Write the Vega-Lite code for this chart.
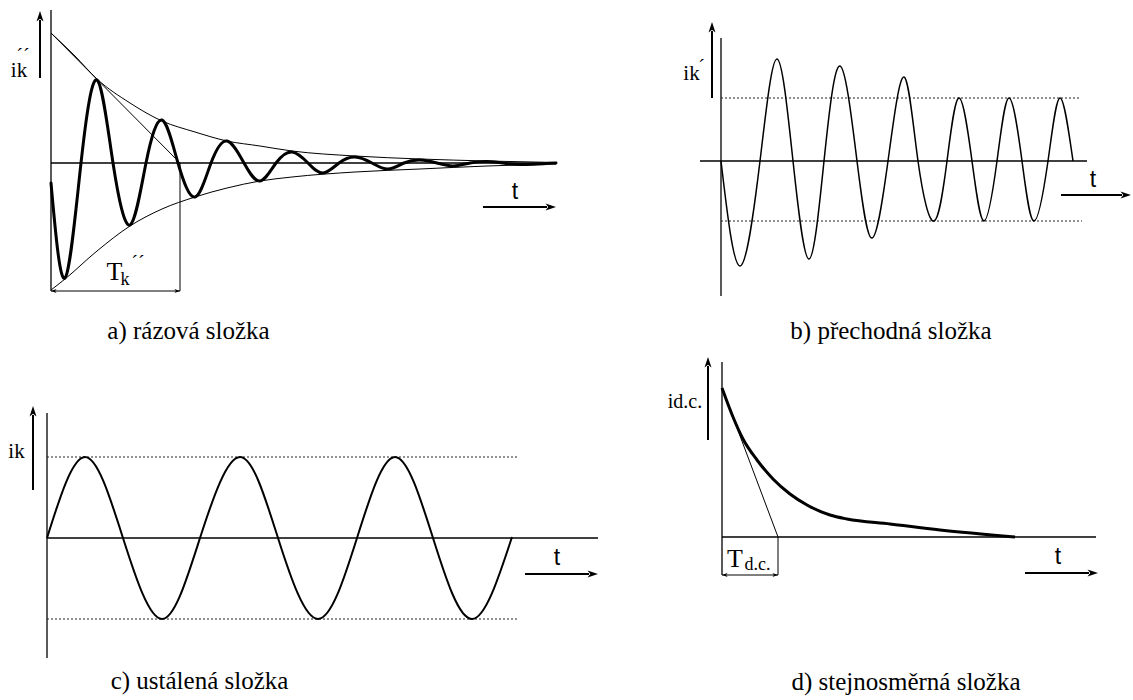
{
  "$schema": "https://vega.github.io/schema/vega-lite/v6.json",
  "background": "white",
  "padding": 0,
  "spacing": 0,
  "bounds": "flush",
  "columns": 2,
  "config": {"view": {"stroke": null}, "axis": {"disable": true}},
  "concat": [
    {
      "width": 610,
      "height": 350,
      "encoding": {
        "x": {"field": "t", "type": "quantitative", "scale": {"domain": [-5.1, 55.9], "nice": false, "zero": false}, "axis": null},
        "y": {"field": "i", "type": "quantitative", "scale": {"domain": [-18.7, 16.3], "nice": false, "zero": false}, "axis": null}
      },
      "layer": [
        {
          "data": {"values": [
            {"t": 0, "i": 15.3, "t2": 0, "i2": -12.8},
            {"t": 0, "i": 0, "t2": 50.6, "i2": 0}
          ]},
          "mark": {"type": "rule", "color": "black", "strokeWidth": 1.3},
          "encoding": {"x2": {"field": "t2"}, "y2": {"field": "i2"}}
        },
        {
          "data": {"values": [
            {"t": 0, "i": 13.0, "t2": 12.9, "i2": 0},
            {"t": 12.9, "i": 0, "t2": 12.9, "i2": -12.8},
            {"t": 0, "i": -12.8, "t2": 12.9, "i2": -12.8}
          ]},
          "mark": {"type": "rule", "color": "black", "strokeWidth": 1},
          "encoding": {"x2": {"field": "t2"}, "y2": {"field": "i2"}}
        },
        {
          "data": {"values": [
            {"t": -1.1, "i": 8.5, "t2": -1.1, "i2": 14.3},
            {"t": 43.2, "i": -4.4, "t2": 49.6, "i2": -4.4}
          ]},
          "mark": {"type": "rule", "color": "black", "strokeWidth": 2},
          "encoding": {"x2": {"field": "t2"}, "y2": {"field": "i2"}}
        },
        {
          "data": {"values": [
            {"side": "upper", "t": 0, "i": 13.0}, {"side": "upper", "t": 2.4, "i": 10.7}, {"side": "upper", "t": 4.6, "i": 8.4},
            {"side": "upper", "t": 7.9, "i": 6.0}, {"side": "upper", "t": 11.1, "i": 4.2}, {"side": "upper", "t": 14.4, "i": 3.1},
            {"side": "upper", "t": 17.6, "i": 2.2}, {"side": "upper", "t": 20.9, "i": 1.7}, {"side": "upper", "t": 24.1, "i": 1.2},
            {"side": "upper", "t": 30.4, "i": 0.7}, {"side": "upper", "t": 36.9, "i": 0.4}, {"side": "upper", "t": 43.6, "i": 0.2},
            {"side": "upper", "t": 50.5, "i": 0.05},
            {"side": "lower", "t": 0, "i": -12.7}, {"side": "lower", "t": 1.4, "i": -11.6}, {"side": "lower", "t": 4.6, "i": -8.8},
            {"side": "lower", "t": 7.9, "i": -6.3}, {"side": "lower", "t": 11.1, "i": -4.6}, {"side": "lower", "t": 14.4, "i": -3.4},
            {"side": "lower", "t": 17.6, "i": -2.5}, {"side": "lower", "t": 20.9, "i": -1.8}, {"side": "lower", "t": 24.1, "i": -1.4},
            {"side": "lower", "t": 30.4, "i": -0.9}, {"side": "lower", "t": 36.9, "i": -0.6}, {"side": "lower", "t": 43.6, "i": -0.3},
            {"side": "lower", "t": 50.5, "i": -0.1}
          ]},
          "mark": {"type": "line", "interpolate": "monotone", "color": "black", "strokeWidth": 1},
          "encoding": {"detail": {"field": "side"}}
        },
        {
          "data": {"values": [
            {"t": 0, "i": -2.0}, {"t": 1.4, "i": -11.5}, {"t": 3.0, "i": 0}, {"t": 4.6, "i": 8.3},
            {"t": 6.2, "i": 0}, {"t": 7.9, "i": -6.2}, {"t": 9.5, "i": 0}, {"t": 11.1, "i": 4.3},
            {"t": 12.7, "i": 0}, {"t": 14.4, "i": -3.4}, {"t": 16.0, "i": 0}, {"t": 17.6, "i": 2.2},
            {"t": 19.3, "i": 0}, {"t": 20.9, "i": -1.8}, {"t": 22.5, "i": 0}, {"t": 24.1, "i": 1.1},
            {"t": 25.7, "i": 0}, {"t": 27.2, "i": -1.0}, {"t": 28.8, "i": 0}, {"t": 30.4, "i": 0.6},
            {"t": 32.1, "i": 0}, {"t": 33.7, "i": -0.6}, {"t": 35.3, "i": 0}, {"t": 36.9, "i": 0.3},
            {"t": 38.6, "i": 0}, {"t": 40.2, "i": -0.3}, {"t": 41.9, "i": 0}, {"t": 43.6, "i": 0.15},
            {"t": 45.2, "i": 0}, {"t": 46.9, "i": -0.15}, {"t": 50.5, "i": 0}
          ]},
          "mark": {"type": "line", "interpolate": "natural", "color": "black", "strokeWidth": 3, "strokeCap": "round"}
        },
        {
          "data": {"values": [{"t": -1.1, "i": 15.2}]},
          "mark": {"type": "point", "shape": "M0,0L-0.5,1.5L0,1.1L0.5,1.5Z", "size": 196, "filled": true, "color": "black", "opacity": 1}
        },
        {
          "data": {"values": [{"t": 50.5, "i": -4.4}]},
          "mark": {"type": "point", "shape": "M0,0L-1.5,-0.5L-1.1,0L-1.5,0.5Z", "size": 196, "filled": true, "color": "black", "opacity": 1}
        },
        {
          "data": {"values": [{"t": 0, "i": -12.8}]},
          "mark": {"type": "point", "shape": "M0,0L1.4,-0.5L1,0L1.4,0.5Z", "size": 64, "filled": true, "color": "black", "opacity": 1}
        },
        {
          "data": {"values": [{"t": 12.9, "i": -12.8}]},
          "mark": {"type": "point", "shape": "M0,0L-1.4,-0.5L-1,0L-1.4,0.5Z", "size": 64, "filled": true, "color": "black", "opacity": 1}
        },
        {
          "data": {"values": [{"t": -3.2, "i": 8.6, "label": "ik"}]},
          "mark": {"type": "text", "font": "Liberation Serif", "fontSize": 21, "align": "center", "baseline": "alphabetic", "color": "black"},
          "encoding": {"text": {"field": "label"}}
        },
        {
          "data": {"values": [{"t": -2.8, "i": 10.0, "label": "´´"}, {"t": 8.7, "i": -10.7, "label": "´´"}]},
          "mark": {"type": "text", "font": "Liberation Serif", "fontSize": 20, "align": "center", "baseline": "alphabetic", "color": "black"},
          "encoding": {"text": {"field": "label"}}
        },
        {
          "data": {"values": [{"t": 6.35, "i": -11.7, "label": "T"}]},
          "mark": {"type": "text", "font": "Liberation Serif", "fontSize": 26, "align": "center", "baseline": "alphabetic", "color": "black"},
          "encoding": {"text": {"field": "label"}}
        },
        {
          "data": {"values": [{"t": 7.4, "i": -12.2, "label": "k"}]},
          "mark": {"type": "text", "font": "Liberation Serif", "fontSize": 18, "align": "center", "baseline": "alphabetic", "color": "black"},
          "encoding": {"text": {"field": "label"}}
        },
        {
          "data": {"values": [{"t": 46.4, "i": -3.6, "label": "t"}]},
          "mark": {"type": "text", "font": "Liberation Sans", "fontSize": 23, "align": "center", "baseline": "alphabetic", "color": "black"},
          "encoding": {"text": {"field": "label"}}
        },
        {
          "data": {"values": [{"t": 13.75, "i": -17.6, "label": "a) rázová složka"}]},
          "mark": {"type": "text", "font": "Liberation Serif", "fontSize": 25, "align": "center", "baseline": "alphabetic", "color": "black"},
          "encoding": {"text": {"field": "label"}}
        }
      ]
    },
    {
      "width": 523,
      "height": 350,
      "encoding": {
        "x": {"field": "t", "type": "quantitative", "scale": {"domain": [-11.1, 41.2], "nice": false, "zero": false}, "axis": null},
        "y": {"field": "i", "type": "quantitative", "scale": {"domain": [-18.9, 16.1], "nice": false, "zero": false}, "axis": null}
      },
      "layer": [
        {
          "data": {"values": [
            {"t": 0, "i": 12.3, "t2": 0, "i2": -13.5},
            {"t": -2.1, "i": 0, "t2": 36.6, "i2": 0}
          ]},
          "mark": {"type": "rule", "color": "black", "strokeWidth": 1.3},
          "encoding": {"x2": {"field": "t2"}, "y2": {"field": "i2"}}
        },
        {
          "data": {"values": [
            {"t": 0, "i": 6.3, "t2": 36.0, "i2": 6.3},
            {"t": 0, "i": -6.0, "t2": 36.1, "i2": -6.0}
          ]},
          "mark": {"type": "rule", "color": "#222222", "strokeWidth": 1, "strokeDash": [2, 2]},
          "encoding": {"x2": {"field": "t2"}, "y2": {"field": "i2"}}
        },
        {
          "data": {"values": [
            {"t": -0.9, "i": 6.3, "t2": -0.9, "i2": 13.0},
            {"t": 34.0, "i": -3.4, "t2": 40.1, "i2": -3.4}
          ]},
          "mark": {"type": "rule", "color": "black", "strokeWidth": 2},
          "encoding": {"x2": {"field": "t2"}, "y2": {"field": "i2"}}
        },
        {
          "data": {"values": [
            {"t": 0, "i": 0}, {"t": 1.9, "i": -10.5}, {"t": 3.9, "i": 0}, {"t": 5.6, "i": 10.2},
            {"t": 7.2, "i": 0}, {"t": 8.8, "i": -9.8}, {"t": 10.3, "i": 0}, {"t": 11.9, "i": 9.5},
            {"t": 13.6, "i": 0}, {"t": 15.1, "i": -7.7}, {"t": 16.7, "i": 0}, {"t": 18.3, "i": 8.4},
            {"t": 19.7, "i": 0}, {"t": 21.3, "i": -6.0}, {"t": 22.6, "i": 0}, {"t": 23.8, "i": 6.3},
            {"t": 25.1, "i": 0}, {"t": 26.3, "i": -6.0}, {"t": 27.6, "i": 0}, {"t": 28.8, "i": 6.3},
            {"t": 30.1, "i": 0}, {"t": 31.3, "i": -6.0}, {"t": 32.7, "i": 0}, {"t": 33.9, "i": 6.3},
            {"t": 35.2, "i": 0}
          ]},
          "mark": {"type": "line", "interpolate": "natural", "color": "black", "strokeWidth": 1.5}
        },
        {
          "data": {"values": [{"t": -0.9, "i": 13.9}]},
          "mark": {"type": "point", "shape": "M0,0L-0.5,1.5L0,1.1L0.5,1.5Z", "size": 196, "filled": true, "color": "black", "opacity": 1}
        },
        {
          "data": {"values": [{"t": 41.0, "i": -3.4}]},
          "mark": {"type": "point", "shape": "M0,0L-1.5,-0.5L-1.1,0L-1.5,0.5Z", "size": 196, "filled": true, "color": "black", "opacity": 1}
        },
        {
          "data": {"values": [{"t": -2.95, "i": 8.1, "label": "ik"}]},
          "mark": {"type": "text", "font": "Liberation Serif", "fontSize": 21, "align": "center", "baseline": "alphabetic", "color": "black"},
          "encoding": {"text": {"field": "label"}}
        },
        {
          "data": {"values": [{"t": -1.95, "i": 8.7, "label": "´"}]},
          "mark": {"type": "text", "font": "Liberation Serif", "fontSize": 20, "align": "center", "baseline": "alphabetic", "color": "black"},
          "encoding": {"text": {"field": "label"}}
        },
        {
          "data": {"values": [{"t": 37.2, "i": -2.6, "label": "t"}]},
          "mark": {"type": "text", "font": "Liberation Sans", "fontSize": 23, "align": "center", "baseline": "alphabetic", "color": "black"},
          "encoding": {"text": {"field": "label"}}
        },
        {
          "data": {"values": [{"t": 17.0, "i": -17.8, "label": "b) přechodná složka"}]},
          "mark": {"type": "text", "font": "Liberation Serif", "fontSize": 25, "align": "center", "baseline": "alphabetic", "color": "black"},
          "encoding": {"text": {"field": "label"}}
        }
      ]
    },
    {
      "width": 610,
      "height": 350,
      "encoding": {
        "x": {"field": "t", "type": "quantitative", "scale": {"domain": [-4.7, 56.3], "nice": false, "zero": false}, "axis": null},
        "y": {"field": "i", "type": "quantitative", "scale": {"domain": [-16.2, 18.8], "nice": false, "zero": false}, "axis": null}
      },
      "layer": [
        {
          "data": {"values": [
            {"t": 0, "i": 12.5, "t2": 0, "i2": -12.0},
            {"t": 0, "i": 0, "t2": 55.1, "i2": 0}
          ]},
          "mark": {"type": "rule", "color": "black", "strokeWidth": 1.3},
          "encoding": {"x2": {"field": "t2"}, "y2": {"field": "i2"}}
        },
        {
          "data": {"values": [
            {"t": 0, "i": 8.1, "t2": 47.0, "i2": 8.1},
            {"t": 0, "i": -8.1, "t2": 47.0, "i2": -8.1}
          ]},
          "mark": {"type": "rule", "color": "#222222", "strokeWidth": 1, "strokeDash": [2, 2]},
          "encoding": {"x2": {"field": "t2"}, "y2": {"field": "i2"}}
        },
        {
          "data": {"values": [
            {"t": -1.4, "i": 4.8, "t2": -1.4, "i2": 12.3},
            {"t": 47.8, "i": -3.6, "t2": 54.2, "i2": -3.6}
          ]},
          "mark": {"type": "rule", "color": "black", "strokeWidth": 2},
          "encoding": {"x2": {"field": "t2"}, "y2": {"field": "i2"}}
        },
        {
          "data": {"values": [
            {"t": 0, "i": 0}, {"t": 3.8, "i": 8.1}, {"t": 7.6, "i": 0}, {"t": 11.5, "i": -8.1},
            {"t": 15.3, "i": 0}, {"t": 19.3, "i": 8.1}, {"t": 23.1, "i": 0}, {"t": 27.1, "i": -8.1},
            {"t": 31.0, "i": 0}, {"t": 34.8, "i": 8.1}, {"t": 38.6, "i": 0}, {"t": 42.5, "i": -8.1},
            {"t": 46.5, "i": 0.1}
          ]},
          "mark": {"type": "line", "interpolate": "natural", "color": "black", "strokeWidth": 2}
        },
        {
          "data": {"values": [{"t": -1.4, "i": 13.2}]},
          "mark": {"type": "point", "shape": "M0,0L-0.5,1.5L0,1.1L0.5,1.5Z", "size": 196, "filled": true, "color": "black", "opacity": 1}
        },
        {
          "data": {"values": [{"t": 55.1, "i": -3.6}]},
          "mark": {"type": "point", "shape": "M0,0L-1.5,-0.5L-1.1,0L-1.5,0.5Z", "size": 196, "filled": true, "color": "black", "opacity": 1}
        },
        {
          "data": {"values": [{"t": -3.05, "i": 8.0, "label": "ik"}]},
          "mark": {"type": "text", "font": "Liberation Serif", "fontSize": 21, "align": "center", "baseline": "alphabetic", "color": "black"},
          "encoding": {"text": {"field": "label"}}
        },
        {
          "data": {"values": [{"t": 51.0, "i": -2.7, "label": "t"}]},
          "mark": {"type": "text", "font": "Liberation Sans", "fontSize": 23, "align": "center", "baseline": "alphabetic", "color": "black"},
          "encoding": {"text": {"field": "label"}}
        },
        {
          "data": {"values": [{"t": 15.25, "i": -15.1, "label": "c) ustálená složka"}]},
          "mark": {"type": "text", "font": "Liberation Serif", "fontSize": 25, "align": "center", "baseline": "alphabetic", "color": "black"},
          "encoding": {"text": {"field": "label"}}
        }
      ]
    },
    {
      "width": 523,
      "height": 350,
      "encoding": {
        "x": {"field": "t", "type": "quantitative", "scale": {"domain": [-11.2, 41.1], "nice": false, "zero": false}, "axis": null},
        "y": {"field": "i", "type": "quantitative", "scale": {"domain": [-16.3, 18.7], "nice": false, "zero": false}, "axis": null}
      },
      "layer": [
        {
          "data": {"values": [
            {"t": 0, "i": 17.5, "t2": 0, "i2": -3.8},
            {"t": 0, "i": 0, "t2": 37.4, "i2": 0}
          ]},
          "mark": {"type": "rule", "color": "black", "strokeWidth": 1.3},
          "encoding": {"x2": {"field": "t2"}, "y2": {"field": "i2"}}
        },
        {
          "data": {"values": [
            {"t": 0, "i": 14.9, "t2": 5.6, "i2": 0},
            {"t": 5.6, "i": 0, "t2": 5.6, "i2": -3.8},
            {"t": 0, "i": -3.8, "t2": 5.6, "i2": -3.8}
          ]},
          "mark": {"type": "rule", "color": "black", "strokeWidth": 1},
          "encoding": {"x2": {"field": "t2"}, "y2": {"field": "i2"}}
        },
        {
          "data": {"values": [
            {"t": -1.4, "i": 9.7, "t2": -1.4, "i2": 17.1},
            {"t": 30.3, "i": -3.6, "t2": 36.7, "i2": -3.6}
          ]},
          "mark": {"type": "rule", "color": "black", "strokeWidth": 2},
          "encoding": {"x2": {"field": "t2"}, "y2": {"field": "i2"}}
        },
        {
          "data": {"values": [
            {"t": 0, "i": 14.9}, {"t": 1.1, "i": 12.0}, {"t": 2.1, "i": 9.8}, {"t": 3.5, "i": 7.7},
            {"t": 5.1, "i": 5.8}, {"t": 6.8, "i": 4.3}, {"t": 8.5, "i": 3.2}, {"t": 10.8, "i": 2.2},
            {"t": 12.5, "i": 1.8}, {"t": 16.8, "i": 1.3}, {"t": 21.8, "i": 0.7}, {"t": 29.3, "i": 0}
          ]},
          "mark": {"type": "line", "interpolate": "monotone", "color": "black", "strokeWidth": 3}
        },
        {
          "data": {"values": [{"t": -1.4, "i": 18.0}]},
          "mark": {"type": "point", "shape": "M0,0L-0.5,1.5L0,1.1L0.5,1.5Z", "size": 196, "filled": true, "color": "black", "opacity": 1}
        },
        {
          "data": {"values": [{"t": 37.6, "i": -3.6}]},
          "mark": {"type": "point", "shape": "M0,0L-1.5,-0.5L-1.1,0L-1.5,0.5Z", "size": 196, "filled": true, "color": "black", "opacity": 1}
        },
        {
          "data": {"values": [{"t": 0, "i": -3.8}]},
          "mark": {"type": "point", "shape": "M0,0L1.4,-0.5L1,0L1.4,0.5Z", "size": 64, "filled": true, "color": "black", "opacity": 1}
        },
        {
          "data": {"values": [{"t": 5.6, "i": -3.8}]},
          "mark": {"type": "point", "shape": "M0,0L-1.4,-0.5L-1,0L-1.4,0.5Z", "size": 64, "filled": true, "color": "black", "opacity": 1}
        },
        {
          "data": {"values": [{"t": -3.7, "i": 12.9, "label": "id.c."}]},
          "mark": {"type": "text", "font": "Liberation Serif", "fontSize": 20, "align": "center", "baseline": "alphabetic", "color": "black"},
          "encoding": {"text": {"field": "label"}}
        },
        {
          "data": {"values": [{"t": 1.3, "i": -3.0, "label": "T"}]},
          "mark": {"type": "text", "font": "Liberation Serif", "fontSize": 26, "align": "center", "baseline": "alphabetic", "color": "black"},
          "encoding": {"text": {"field": "label"}}
        },
        {
          "data": {"values": [{"t": 3.55, "i": -3.3, "label": "d.c."}]},
          "mark": {"type": "text", "font": "Liberation Serif", "fontSize": 18, "align": "center", "baseline": "alphabetic", "color": "black"},
          "encoding": {"text": {"field": "label"}}
        },
        {
          "data": {"values": [{"t": 33.6, "i": -2.7, "label": "t"}]},
          "mark": {"type": "text", "font": "Liberation Sans", "fontSize": 23, "align": "center", "baseline": "alphabetic", "color": "black"},
          "encoding": {"text": {"field": "label"}}
        },
        {
          "data": {"values": [{"t": 18.4, "i": -15.3, "label": "d) stejnosměrná složka"}]},
          "mark": {"type": "text", "font": "Liberation Serif", "fontSize": 25, "align": "center", "baseline": "alphabetic", "color": "black"},
          "encoding": {"text": {"field": "label"}}
        }
      ]
    }
  ]
}
